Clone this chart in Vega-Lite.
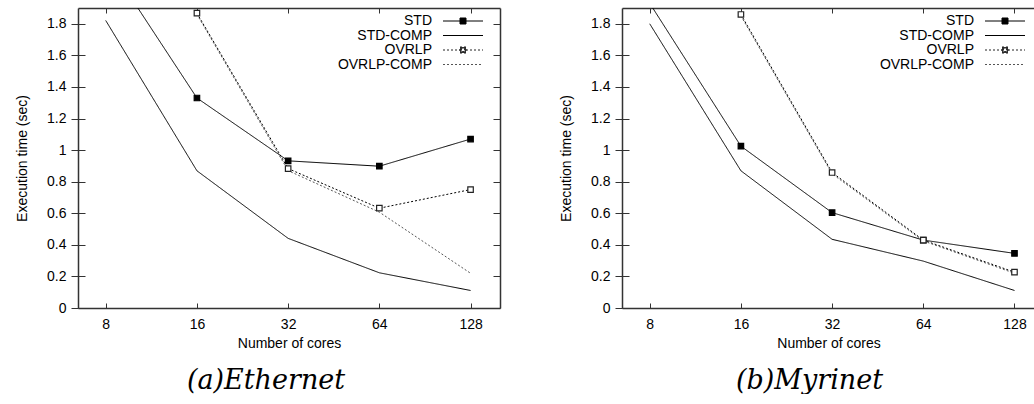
{
  "$schema": "https://vega.github.io/schema/vega-lite/v6.json",
  "background": "white",
  "padding": {"left": 15, "top": 7, "right": 0, "bottom": 0},
  "autosize": {"type": "pad"},
  "config": {
    "view": {"stroke": null},
    "axis": {
      "domainColor": "#333", "domainWidth": 1.5,
      "tickColor": "#333", "tickWidth": 1,
      "labelColor": "black", "labelFont": "Liberation Sans", "labelFontSize": 14,
      "titleColor": "black", "titleFont": "Liberation Sans", "titleFontSize": 14, "titleFontWeight": "normal",
      "grid": false
    },
    "legend": {
      "labelFont": "Liberation Sans", "labelFontSize": 14, "labelColor": "black",
      "labelAlign": "right", "labelOffset": -38,
      "symbolSize": 100, "symbolStrokeWidth": 1, "symbolOffset": 0,
      "rowPadding": 0.5, "padding": 0
    }
  },
  "datasets": {
    "ethernet": [
      {"series": "STD", "cores": 8, "time": 2.21},
      {"series": "STD", "cores": 16, "time": 1.33},
      {"series": "STD", "cores": 32, "time": 0.932},
      {"series": "STD", "cores": 64, "time": 0.898},
      {"series": "STD", "cores": 128, "time": 1.07},
      {"series": "STD-COMP", "cores": 8, "time": 1.821},
      {"series": "STD-COMP", "cores": 16, "time": 0.869},
      {"series": "STD-COMP", "cores": 32, "time": 0.441},
      {"series": "STD-COMP", "cores": 64, "time": 0.223},
      {"series": "STD-COMP", "cores": 128, "time": 0.111},
      {"series": "OVRLP", "cores": 16, "time": 1.867},
      {"series": "OVRLP", "cores": 32, "time": 0.883},
      {"series": "OVRLP", "cores": 64, "time": 0.632},
      {"series": "OVRLP", "cores": 128, "time": 0.75},
      {"series": "OVRLP-COMP", "cores": 16, "time": 1.86},
      {"series": "OVRLP-COMP", "cores": 32, "time": 0.87},
      {"series": "OVRLP-COMP", "cores": 64, "time": 0.607},
      {"series": "OVRLP-COMP", "cores": 128, "time": 0.22}
    ],
    "myrinet": [
      {"series": "STD", "cores": 8, "time": 1.93},
      {"series": "STD", "cores": 16, "time": 1.025},
      {"series": "STD", "cores": 32, "time": 0.604},
      {"series": "STD", "cores": 64, "time": 0.43},
      {"series": "STD", "cores": 128, "time": 0.346},
      {"series": "STD-COMP", "cores": 8, "time": 1.8},
      {"series": "STD-COMP", "cores": 16, "time": 0.869},
      {"series": "STD-COMP", "cores": 32, "time": 0.435},
      {"series": "STD-COMP", "cores": 64, "time": 0.297},
      {"series": "STD-COMP", "cores": 128, "time": 0.111},
      {"series": "OVRLP", "cores": 16, "time": 1.859},
      {"series": "OVRLP", "cores": 32, "time": 0.858},
      {"series": "OVRLP", "cores": 64, "time": 0.43},
      {"series": "OVRLP", "cores": 128, "time": 0.227},
      {"series": "OVRLP-COMP", "cores": 16, "time": 1.85},
      {"series": "OVRLP-COMP", "cores": 32, "time": 0.85},
      {"series": "OVRLP-COMP", "cores": 64, "time": 0.425},
      {"series": "OVRLP-COMP", "cores": 128, "time": 0.22}
    ]
  },
  "spacing": 58,
  "resolve": {
    "scale": {"shape": "independent", "fill": "independent", "stroke": "independent", "strokeDash": "independent"},
    "legend": {"shape": "independent", "fill": "independent", "stroke": "independent", "strokeDash": "independent"}
  },
  "hconcat": [
    {
      "width": 422,
      "height": 300,
      "data": {"name": "ethernet"},
      "title": {"text": "(a)Ethernet", "orient": "bottom", "font": "DejaVu Serif", "fontStyle": "italic", "fontWeight": "normal", "fontSize": 27, "color": "black", "dx": -23, "offset": 18},
      "resolve": {"axis": {"x": "independent", "y": "independent"}},
      "layer": [
        {
          "mark": {"type": "line", "clip": true, "strokeWidth": 1},
          "encoding": {
            "x": {"field": "cores", "type": "quantitative",
                  "scale": {"type": "log", "base": 2, "domain": [6.48, 160.1], "nice": false, "zero": false},
                  "axis": {"orient": "bottom", "values": [8, 16, 32, 64, 128], "format": "d", "title": "Number of cores", "tickSize": -5, "labelPadding": 14, "titlePadding": 5, "labelFlush": false}},
            "y": {"field": "time", "type": "quantitative",
                  "scale": {"domain": [0, 1.9], "nice": false, "zero": false},
                  "axis": {"orient": "left", "values": [0, 0.2, 0.4, 0.6, 0.8, 1, 1.2, 1.4, 1.6, 1.8], "format": "~g", "title": "Execution time (sec)", "tickSize": 7, "labelPadding": 5, "titlePadding": 17}},
            "detail": {"field": "series"},
            "strokeDash": {"condition": {"test": "indexof(datum.series, 'OVRLP') === 0", "value": [2, 2]}, "value": [1, 0]},
            "color": {"condition": {"test": "datum.series === 'OVRLP-COMP'", "value": "#555"}, "value": "black"}
          }
        },
        {
          "transform": [{"filter": "datum.series === 'STD' || datum.series === 'OVRLP'"}],
          "mark": {"type": "square", "clip": true, "size": 30, "strokeWidth": 1.2, "opacity": 1},
          "encoding": {
            "x": {"field": "cores", "type": "quantitative",
                  "axis": {"orient": "top", "values": [8, 16, 32, 64, 128], "labels": false, "title": null, "tickSize": -5}},
            "y": {"field": "time", "type": "quantitative",
                  "axis": {"orient": "right", "values": [0, 0.2, 0.4, 0.6, 0.8, 1, 1.2, 1.4, 1.6, 1.8], "labels": false, "title": null, "tickSize": -7}},
            "fill": {"condition": {"test": "datum.series === 'STD'", "value": "black"}, "value": "white"},
            "stroke": {"condition": {"test": "datum.series === 'STD'", "value": "black"}, "value": "#222"}
          }
        },
        {
          "transform": [{"filter": "false"}],
          "mark": {"type": "point", "filled": false, "opacity": 1, "strokeWidth": 1},
          "encoding": {
            "y": {"field": "time", "type": "quantitative",
                  "axis": {"orient": "left", "values": [0, 0.2, 0.4, 0.6, 0.8, 1, 1.2, 1.4, 1.6, 1.8], "labels": false, "title": null, "tickSize": -7, "domain": false}},
            "shape": {"field": "series", "type": "nominal",
                      "scale": {"domain": ["STD", "STD-COMP", "OVRLP", "OVRLP-COMP"], "range": ["M-4,0H4M-0.6,-0.6H0.6V0.6H-0.6Z", "M-4,0H4", "M-4,0H-0.6M0.6,0H4M-0.6,-0.6H0.6V0.6H-0.6ZM-0.32,-0.32V0.32H0.32V-0.32Z", "M-4,0H4"]},
                      "legend": {"title": null, "orient": "none", "legendX": 378, "legendY": 6}},
            "fill": {"field": "series", "type": "nominal",
                     "scale": {"domain": ["STD", "STD-COMP", "OVRLP", "OVRLP-COMP"], "range": ["black", "transparent", "#333", "transparent"]},
                     "legend": {"title": null, "orient": "none", "legendX": 378, "legendY": 6}},
            "stroke": {"field": "series", "type": "nominal",
                       "scale": {"domain": ["STD", "STD-COMP", "OVRLP", "OVRLP-COMP"], "range": ["black", "black", "#222", "#555"]},
                       "legend": {"title": null, "orient": "none", "legendX": 378, "legendY": 6}},
            "strokeDash": {"field": "series", "type": "nominal",
                           "scale": {"domain": ["STD", "STD-COMP", "OVRLP", "OVRLP-COMP"], "range": [[1, 0], [1, 0], [2, 2], [2, 2]]},
                           "legend": {"title": null, "orient": "none", "legendX": 378, "legendY": 6}}
          }
        }
      ]
    },
    {
      "width": 413,
      "height": 300,
      "data": {"name": "myrinet"},
      "title": {"text": "(b)Myrinet", "orient": "bottom", "font": "DejaVu Serif", "fontStyle": "italic", "fontWeight": "normal", "fontSize": 27, "color": "black", "dx": -19, "offset": 18},
      "resolve": {"axis": {"x": "independent", "y": "independent"}},
      "layer": [
        {
          "mark": {"type": "line", "clip": true, "strokeWidth": 1},
          "encoding": {
            "x": {"field": "cores", "type": "quantitative",
                  "scale": {"type": "log", "base": 2, "domain": [6.48, 149.6], "nice": false, "zero": false},
                  "axis": {"orient": "bottom", "values": [8, 16, 32, 64, 128], "format": "d", "title": "Number of cores", "tickSize": -5, "labelPadding": 14, "titlePadding": 5, "labelFlush": false}},
            "y": {"field": "time", "type": "quantitative",
                  "scale": {"domain": [0, 1.9], "nice": false, "zero": false},
                  "axis": {"orient": "left", "values": [0, 0.2, 0.4, 0.6, 0.8, 1, 1.2, 1.4, 1.6, 1.8], "format": "~g", "title": "Execution time (sec)", "tickSize": 7, "labelPadding": 5, "titlePadding": 17}},
            "detail": {"field": "series"},
            "strokeDash": {"condition": {"test": "indexof(datum.series, 'OVRLP') === 0", "value": [2, 2]}, "value": [1, 0]},
            "color": {"condition": {"test": "datum.series === 'OVRLP-COMP'", "value": "#555"}, "value": "black"}
          }
        },
        {
          "transform": [{"filter": "datum.series === 'STD' || datum.series === 'OVRLP'"}],
          "mark": {"type": "square", "clip": true, "size": 30, "strokeWidth": 1.2, "opacity": 1},
          "encoding": {
            "x": {"field": "cores", "type": "quantitative",
                  "axis": {"orient": "top", "values": [8, 16, 32, 64, 128], "labels": false, "title": null, "tickSize": -5}},
            "y": {"field": "time", "type": "quantitative", "axis": null},
            "fill": {"condition": {"test": "datum.series === 'STD'", "value": "black"}, "value": "white"},
            "stroke": {"condition": {"test": "datum.series === 'STD'", "value": "black"}, "value": "#222"}
          }
        },
        {
          "transform": [{"filter": "false"}],
          "mark": {"type": "point", "filled": false, "opacity": 1, "strokeWidth": 1},
          "encoding": {
            "y": {"field": "time", "type": "quantitative",
                  "axis": {"orient": "left", "values": [0, 0.2, 0.4, 0.6, 0.8, 1, 1.2, 1.4, 1.6, 1.8], "labels": false, "title": null, "tickSize": -7, "domain": false}},
            "shape": {"field": "series", "type": "nominal",
                      "scale": {"domain": ["STD", "STD-COMP", "OVRLP", "OVRLP-COMP"], "range": ["M-4,0H4M-0.6,-0.6H0.6V0.6H-0.6Z", "M-4,0H4", "M-4,0H-0.6M0.6,0H4M-0.6,-0.6H0.6V0.6H-0.6ZM-0.32,-0.32V0.32H0.32V-0.32Z", "M-4,0H4"]},
                      "legend": {"title": null, "orient": "none", "legendX": 376, "legendY": 6}},
            "fill": {"field": "series", "type": "nominal",
                     "scale": {"domain": ["STD", "STD-COMP", "OVRLP", "OVRLP-COMP"], "range": ["black", "transparent", "#333", "transparent"]},
                     "legend": {"title": null, "orient": "none", "legendX": 376, "legendY": 6}},
            "stroke": {"field": "series", "type": "nominal",
                       "scale": {"domain": ["STD", "STD-COMP", "OVRLP", "OVRLP-COMP"], "range": ["black", "black", "#222", "#555"]},
                       "legend": {"title": null, "orient": "none", "legendX": 376, "legendY": 6}},
            "strokeDash": {"field": "series", "type": "nominal",
                           "scale": {"domain": ["STD", "STD-COMP", "OVRLP", "OVRLP-COMP"], "range": [[1, 0], [1, 0], [2, 2], [2, 2]]},
                           "legend": {"title": null, "orient": "none", "legendX": 376, "legendY": 6}}
          }
        }
      ]
    }
  ]
}
